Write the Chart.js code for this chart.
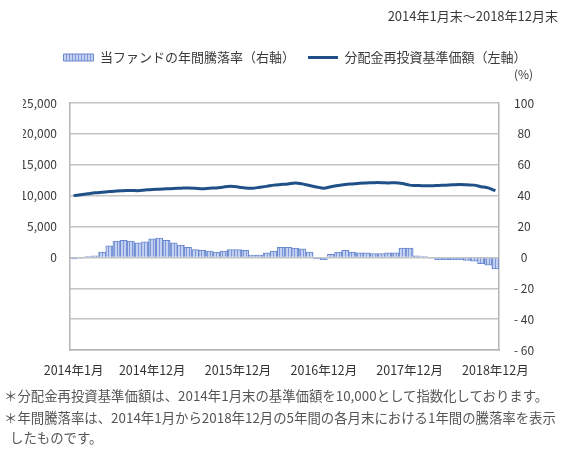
<!DOCTYPE html>
<html lang="ja">
<head>
<meta charset="utf-8">
<script src="https://cdn.jsdelivr.net/npm/chart.js@4"></script>
<style>
  html, body { margin: 0; padding: 0; background: #fff; }
  #wrap { position: relative; width: 567px; height: 452px; overflow: hidden; font-family: "Noto Sans CJK JP", "Noto Sans", sans-serif; }
  #c { position: absolute; left: 0; top: 0; }
  .txt { position: absolute; white-space: nowrap; color: #3a3a3a; line-height: 1; }
  #period { right: 9px; top: 9px; font-size: 13px; }
  #pct { left: 514px; top: 68px; font-size: 12px; }
  .note { left: 4px; font-size: 13.4px; color: #555; }
</style>
</head>
<body>
<div id="wrap">
  <canvas id="c" width="567" height="452"></canvas>
  <div class="txt" id="period">2014年1月末～2018年12月末</div>
  <div class="txt" id="pct">(%)</div>
  <div class="txt note" style="top:389px">＊分配金再投資基準価額は、2014年1月末の基準価額を10,000として指数化しております。</div>
  <div class="txt note" style="top:411px">＊年間騰落率は、2014年1月から2018年12月の5年間の各月末における1年間の騰落率を表示</div>
  <div class="txt note" style="top:431px">&nbsp;&nbsp;したものです。</div>
</div>
<script>
// ---- data ----
const months = [];
for (let y = 2014; y <= 2018; y++) for (let m = 1; m <= 12; m++) months.push(y + '年' + m + '月');

const shownLabels = ['2014年1月', '2014年12月', '2015年12月', '2016年12月', '2017年12月', '2018年12月'];

const navIndex = [
  10000, 10150, 10300, 10450, 10550, 10650, 10750, 10800, 10850, 10800, 10900, 11000,
  11050, 11100, 11150, 11200, 11250, 11200, 11100, 11200, 11250, 11400, 11500, 11400,
  11250, 11200, 11350, 11500, 11700, 11800, 11900, 12050, 11900, 11650, 11400, 11200,
  11450, 11650, 11800, 11900, 12000, 12050, 12100, 12100, 12050, 12100, 11950, 11700,
  11650, 11600, 11600, 11650, 11700, 11750, 11800, 11750, 11700, 11450, 11250, 10800
];

const annualReturn = [
  -1, -0.5, 0.5, 1, 3.5, 7.5, 10.5, 11, 10.5, 9.5, 10, 12,
  12.5, 11, 9.5, 8, 6.5, 5, 4.5, 4, 3.5, 4, 5, 5,
  4.5, 1.5, 1.5, 3, 4, 6.5, 6.5, 6, 5.5, 3.5, -1, -1.5,
  2, 3.5, 4.5, 3.5, 3, 3, 2.5, 2.5, 3, 3, 6, 6,
  1, 0.5, -0.5, -1.5, -1.5, -1.5, -1.5, -2, -2.5, -4, -5, -7.5
];

const leftTicks = [0, 5000, 10000, 15000, 20000, 25000];
const rightTicks = [-60, -40, -20, 0, 20, 40, 60, 80, 100];

const seriesNames = ['当ファンドの年間騰落率（右軸）', '分配金再投資基準価額（左軸）'];

// ---- styles ----
const FONT = '"Noto Sans CJK JP", "Noto Sans", sans-serif';
function stripePattern() {
  const p = document.createElement('canvas');
  p.width = 3; p.height = 3;
  const g = p.getContext('2d');
  g.fillStyle = '#c4d1f1';
  g.fillRect(0, 0, 3, 3);
  g.fillStyle = '#7d98d8';
  g.fillRect(0, 0, 1, 3);
  return g.createPattern(p, 'repeat');
}
const ctx = document.getElementById('c').getContext('2d');
const pattern = stripePattern();

const legendSpacer = {
  id: 'legendSpacer',
  beforeInit(chart) {
    const orig = chart.legend.fit;
    chart.legend.fit = function () {
      orig.bind(chart.legend)();
      this.height = 65;
    };
  }
};

new Chart(ctx, {
  data: {
    labels: months,
    datasets: [
      {
        type: 'line',
        label: seriesNames[1],
        data: navIndex,
        yAxisID: 'y',
        borderColor: '#1f5087',
        backgroundColor: '#1f5087',
        borderWidth: 3,
        pointRadius: 0,
        pointStyle: 'line',
        tension: 0.3,
        order: 1
      },
      {
        type: 'bar',
        label: seriesNames[0],
        data: annualReturn,
        yAxisID: 'y1',
        backgroundColor: pattern,
        borderColor: '#6a88cf',
        borderWidth: 1,
        barPercentage: 1,
        categoryPercentage: 1,
        pointStyle: 'rect',
        order: 2
      }
    ]
  },
  options: {
    responsive: false,
    animation: false,
    devicePixelRatio: 1,
    layout: { padding: { left: 23, right: 0, top: 38, bottom: 0 } },
    plugins: {
      legend: {
        display: true,
        position: 'top',
        reverse: true,
        labels: {
          font: { family: FONT, size: 13 },
          color: '#3a3a3a',
          usePointStyle: true,
          pointStyleWidth: 30,
          boxHeight: 7,
          padding: 13
        }
      },
      tooltip: { enabled: false }
    },
    scales: {
      x: {
        type: 'category',
        offset: true,
        grid: {
          display: false,
          drawTicks: false
        },
        border: { display: true, color: '#b5b5b5', width: 1.5 },
        ticks: {
          autoSkip: false,
          maxRotation: 0,
          minRotation: 0,
          padding: 13,
          font: { family: FONT, size: 12.5 },
          color: '#333',
          callback: function (v, i) {
            const l = months[i];
            return shownLabels.includes(l) ? l : '';
          }
        },
        afterFit: (s) => { s.height = 102; }
      },
      y: {
        position: 'left',
        min: -15000,
        max: 25000,
        afterBuildTicks: (s) => { s.ticks = leftTicks.map(v => ({ value: v })); },
        grid: { display: false, drawTicks: false },
        border: { display: true, color: '#b5b5b5', width: 1.5 },
        ticks: {
          padding: 13,
          font: { family: FONT, size: 12 },
          color: '#3a3a3a',
          callback: (v) => v.toLocaleString('en-US')
        },
        afterFit: (s) => { s.width = 47; }
      },
      y1: {
        position: 'right',
        min: -60,
        max: 100,
        afterBuildTicks: (s) => { s.ticks = rightTicks.map(v => ({ value: v })); },
        grid: {
          display: true,
          drawTicks: false,
          color: '#c4c4c4',
          lineWidth: 1.5
        },
        border: { display: true, color: '#b5b5b5', width: 1.5 },
        ticks: {
          padding: 15,
          crossAlign: 'center',
          font: { family: FONT, size: 12 },
          color: '#3a3a3a',
          callback: (v) => v < 0 ? '- ' + Math.abs(v) : String(v)
        },
        afterFit: (s) => { s.width = 68; }
      }
    }
  },
  plugins: [legendSpacer]
});
</script>
</body>
</html>
